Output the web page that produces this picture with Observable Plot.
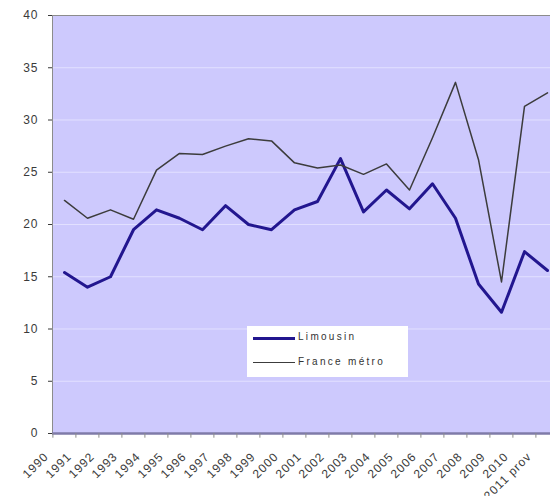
<!DOCTYPE html>
<html>
<head>
<meta charset="utf-8">
<script src="https://cdn.jsdelivr.net/npm/d3@7"></script>
<script src="https://cdn.jsdelivr.net/npm/@observablehq/plot@0.6"></script>
<style>
  html, body { margin: 0; padding: 0; background: white; overflow: hidden; }
  #wrap { position: relative; width: 550px; height: 496px; overflow: hidden; }
  #legend { position: absolute; left: 247px; top: 326px; width: 161px; height: 51px; background: white;
    font-family: "Liberation Sans", Arial, sans-serif; font-size: 10px; color: #333; }
  .lrow { position: absolute; left: 0; width: 100%; height: 0; }
  .lline { position: absolute; left: 6px; width: 42px; }
  .ltext { position: absolute; left: 51px; top: -7px; letter-spacing: 2.3px; white-space: nowrap; }
</style>
</head>
<body>
<div id="wrap"></div>
<script>
const labels = ["1990","1991","1992","1993","1994","1995","1996","1997","1998","1999","2000",
  "2001","2002","2003","2004","2005","2006","2007","2008","2009","2010","2011 prov"];
const limousin = [15.4, 14.0, 15.0, 19.5, 21.4, 20.6, 19.5, 21.8, 20.0, 19.5, 21.4,
  22.2, 26.3, 21.2, 23.3, 21.5, 23.9, 20.6, 14.3, 11.6, 17.4, 15.6];
const france = [22.3, 20.6, 21.4, 20.5, 25.2, 26.8, 26.7, 27.5, 28.2, 28.0, 25.9,
  25.4, 25.7, 24.8, 25.8, 23.3, 28.3, 33.6, 26.2, 14.5, 31.3, 32.6];
const seriesNames = ["Limousin", "France métro"];
const yTicks = [0, 5, 10, 15, 20, 25, 30, 35, 40];

const colors = {"Limousin": "#22168f", "France métro": "#3c3c3c"};
const widths = {"Limousin": 3, "France métro": 1.5};

const rowsL = labels.map((l, i) => ({label: l, value: limousin[i], series: seriesNames[0]}));
const rowsF = labels.map((l, i) => ({label: l, value: france[i], series: seriesNames[1]}));

const chart = Plot.plot({
  width: 560,
  height: 496,
  marginLeft: 52,
  marginRight: 2,
  marginTop: 15,
  marginBottom: 63,
  style: {maxWidth: "none", background: "white", fontFamily: "Liberation Sans, Arial, sans-serif", fontSize: "12px", color: "#3a3a3a", letterSpacing: "1px"},
  x: {type: "point", domain: labels, range: [62, 549.5], padding: 0, axis: null},
  y: {domain: [0, 40], ticks: yTicks, tickSize: 4, tickPadding: 10, label: null},
  marks: [
    Plot.frame({fill: "#cdc9fd"}),
    Plot.ruleY(yTicks.filter(d => d > 0 && d < 40), {stroke: "#e2e0ff", strokeWidth: 1}),
    Plot.frame({stroke: "#8c8c8c", strokeWidth: 1, fill: "none"}),
    Plot.ruleY([0], {stroke: "#7f7ba8", strokeWidth: 2.5}),
    Plot.ruleX(labels, {x: d => d, y1: 0, y2: -0.45, dx: -11.6, stroke: "#8c8c8c"}),
    Plot.line(rowsL, {x: "label", y: "value", stroke: colors["Limousin"], strokeWidth: widths["Limousin"]}),
    Plot.line(rowsF, {x: "label", y: "value", stroke: colors["France métro"], strokeWidth: widths["France métro"]}),
    Plot.text(labels, {x: d => d, frameAnchor: "bottom", lineAnchor: "middle", text: d => d, rotate: -45, textAnchor: "end",
      dx: -18, dy: 21, fontSize: 12, fill: "#3a3a3a", style: "letter-spacing:1.2px"})
  ]
});
document.getElementById("wrap").appendChild(chart);

// legend inside plot area
const legend = document.createElement("div");
legend.id = "legend";
seriesNames.forEach((name, i) => {
  const row = document.createElement("div");
  row.className = "lrow";
  row.style.top = (12 + i * 25) + "px";
  const line = document.createElement("div");
  line.className = "lline";
  line.style.borderTop = widths[name] + "px solid " + colors[name];
  line.style.top = (-widths[name] / 2) + "px";
  const txt = document.createElement("div");
  txt.className = "ltext";
  txt.textContent = name;
  row.appendChild(line);
  row.appendChild(txt);
  legend.appendChild(row);
});
document.getElementById("wrap").appendChild(legend);
</script>
</body>
</html>
